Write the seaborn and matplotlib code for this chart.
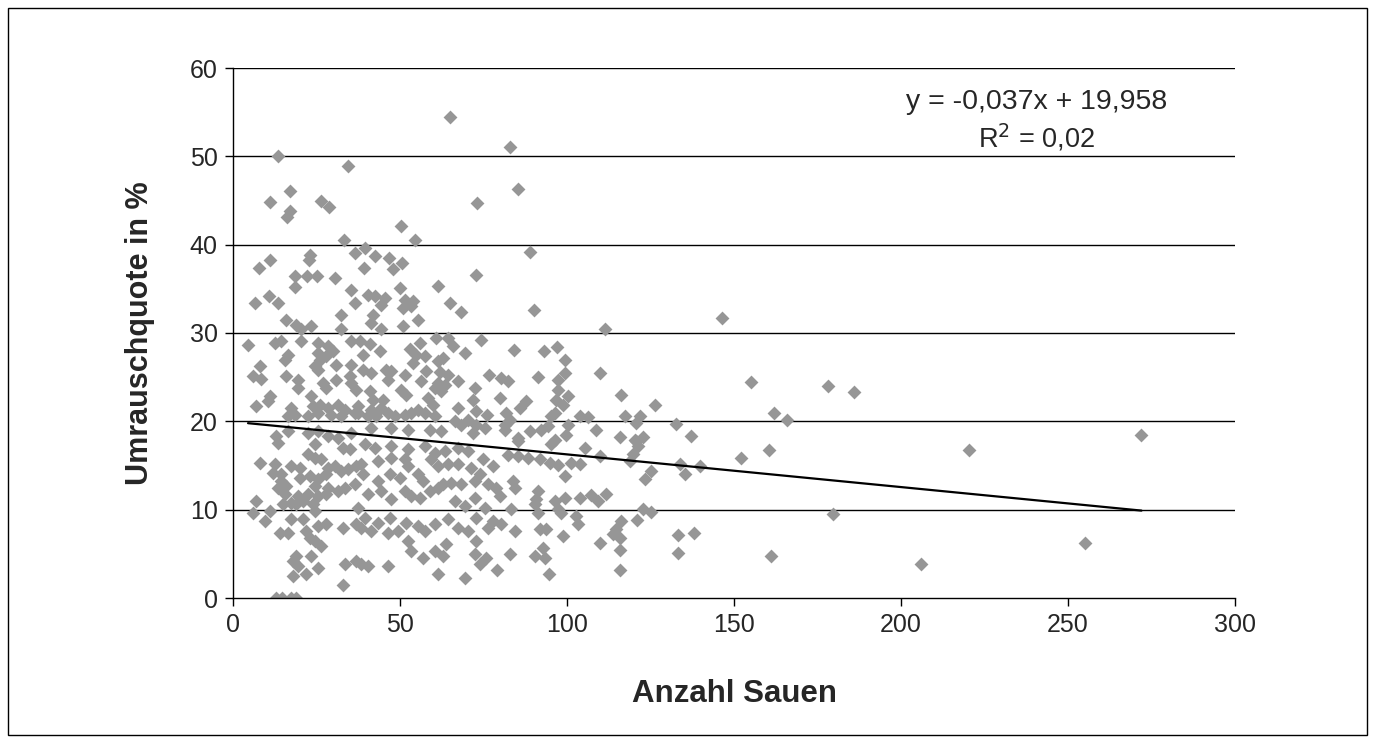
import matplotlib
matplotlib.use("Agg")
import matplotlib.pyplot as plt
from matplotlib.patches import Rectangle
import seaborn as sns
import numpy as np

# ---- data ----
pts = [
 (13.5,50.0),(34.4,48.9),(17.1,46.1),(11.1,44.8),(26.3,45.0),(28.7,44.3),(17.1,43.8),(16.2,43.1),(33.2,40.5),(36.5,39.1),
 (7.8,37.4),(11.1,38.3),(23.1,38.8),(22.8,38.3),(18.6,36.4),(22.2,36.4),(25.1,36.4),(30.5,36.2),
 (65.0,54.5),(73.0,44.7),(50.3,42.1),(54.5,40.5),(39.5,39.6),(42.5,38.7),(46.7,38.5),(50.6,37.9),(47.9,37.3),(39.2,37.4),(72.8,36.6),
 (83.0,51.1),(85.3,46.3),(88.9,39.2),
 (18.6,35.2),(35.3,34.9),(6.6,33.4),(10.8,34.2),(13.5,33.4),(36.5,33.4),(32.3,32.0),(15.9,31.5),(18.9,30.9),(20.4,30.4),(23.4,30.8),(32.3,30.4),
 (4.5,28.6),(12.6,28.9),(14.4,29.1),(20.4,29.1),(25.4,28.9),(28.4,28.5),(29.9,28.0),(35.3,29.1),
 (16.5,27.5),(15.6,27.0),(25.4,27.7),(26.0,27.0),(27.8,27.4),
 (24.6,26.3),(25.4,25.8),(30.8,26.4),(35.3,26.4),
 (8.1,26.3),(6.0,25.1),(8.4,24.8),(15.9,25.1),(19.5,24.7),(19.5,23.8),
 (26.9,24.3),(27.8,23.8),(30.8,24.7),(35.0,25.1),(35.3,24.3),(36.8,23.6),
 (11.1,22.9),(10.5,22.3),(6.9,21.7),(23.4,22.9),(17.4,21.5),(18.6,20.7),(16.5,20.6),
 (24.0,21.7),(26.0,21.9),(28.4,21.5),(31.4,21.9),(33.5,21.3),(25.4,21.0),(29.3,20.7),(32.3,20.6),(36.5,21.0),(22.5,20.6),
 (12.9,18.3),(16.5,18.9),(22.5,18.7),(25.4,18.9),(28.4,18.3),(31.4,18.1),(35.3,18.7),
 (13.5,17.6),(24.6,17.4),(32.9,17.0),(35.0,16.9),(8.1,15.3),(12.6,15.2),(12.0,14.2),(14.4,14.0),
 (17.4,15.0),(20.1,14.7),(22.5,16.3),(24.6,15.9),(26.3,15.7),
 (28.4,14.7),(30.5,15.0),(32.3,14.4),(34.4,14.6),(36.8,15.0),
 (14.4,13.3),(15.9,12.7),(13.5,12.5),(20.1,13.6),(23.1,13.8),(25.4,13.5),(27.8,14.0),
 (24.6,12.7),(28.4,12.5),(31.4,12.1),(33.5,12.5),(36.5,12.9),
 (15.6,11.8),(19.5,11.6),(22.5,11.8),(25.4,11.6),(27.8,11.8),
 (6.9,11.0),(6.0,9.6),(11.1,9.9),(9.6,8.7),
 (15.0,10.6),(17.4,10.8),(18.9,10.6),(21.0,11.0),(24.0,10.6),(24.6,9.9),
 (17.4,8.9),(21.0,8.9),(21.9,7.6),(23.1,6.8),(25.4,8.2),(27.8,8.4),
 (14.1,7.4),(16.5,7.4),(24.6,6.5),(26.3,5.9),(32.9,7.9),(36.8,8.4),
 (18.9,4.8),(18.0,4.2),(19.5,3.6),(23.4,4.8),(25.4,3.4),(21.9,2.7),(18.0,2.5),
 (33.5,3.9),(36.8,4.2),(32.9,1.5),(12.8,0.0),(14.8,0.0),(17.5,0.0),(18.8,0.0),
 (61.4,35.3),(50.0,35.1),(40.4,34.3),(42.5,34.2),(45.5,34.0),(44.3,33.2),
 (51.5,33.7),(53.9,33.6),(50.9,32.8),(53.3,33.1),(65.0,33.4),(68.3,32.4),
 (41.9,32.0),(41.3,31.1),(44.3,30.4),(50.9,30.8),(55.4,31.5),
 (38.0,29.1),(41.0,28.8),(44.0,28.0),(38.9,27.5),
 (53.0,28.2),(56.0,28.9),(54.8,27.5),(57.5,27.4),
 (60.8,29.4),(64.4,29.4),(65.9,28.5),(69.5,27.7),(62.9,27.2),(61.4,26.8),(53.9,26.6),
 (38.9,25.8),(41.3,25.5),(45.8,25.8),(47.3,25.7),(46.4,24.7),
 (51.5,25.3),(57.8,25.7),(62.0,25.6),(64.4,25.3),
 (56.3,24.6),(61.4,24.3),(60.5,23.8),(63.5,24.1),(62.3,23.4),(67.4,24.6),
 (41.0,23.4),(50.3,23.6),(51.8,23.0),(72.5,23.8),(71.9,22.4),(58.4,22.6),(59.9,21.9),
 (41.9,22.4),(44.9,22.4),(41.3,21.3),(44.3,21.5),(46.4,21.0),(42.8,20.6),(40.4,20.6),
 (48.5,20.6),(51.5,20.7),(53.3,21.0),(55.4,21.3),(57.5,21.0),(60.5,20.6),
 (67.4,21.5),(72.8,21.2),(70.4,20.2),(66.5,20.0),(68.3,19.6),(37.4,21.7),(37.4,21.0),
 (41.3,19.3),(47.3,19.3),(52.4,19.0),(59.0,19.0),(62.3,18.9),(71.9,18.7),(72.8,19.6),
 (39.5,17.4),(42.5,17.0),(47.3,17.2),(52.4,16.9),(57.5,17.2),(60.5,16.4),(63.5,16.6),(67.4,17.0),(70.4,16.6),
 (38.3,15.2),(43.4,15.5),(47.3,15.9),(51.5,15.7),(52.4,15.0),
 (59.3,15.7),(61.4,15.0),(64.4,15.2),(67.4,15.2),(71.3,14.7),
 (38.9,14.0),(43.4,13.3),(47.0,14.0),(50.0,13.6),(55.4,14.0),(56.9,13.3),
 (59.0,12.1),(61.4,12.5),(62.9,12.9),(65.3,13.0),(68.3,12.9),(72.5,13.3),
 (40.4,11.8),(44.3,12.1),(47.3,11.2),(51.5,12.1),(53.3,11.6),(56.0,11.3),
 (66.5,11.0),(69.5,10.4),(72.5,11.3),
 (37.4,10.2),(39.5,9.1),(43.4,8.5),(47.0,9.1),(51.8,8.5),(55.4,8.2),(57.5,7.6),(60.5,8.4),
 (64.4,8.9),(67.4,7.9),(72.8,9.1),(70.4,7.6),
 (38.3,7.9),(41.3,7.6),(46.4,7.4),(49.4,7.6),
 (52.4,6.5),(53.3,5.3),(56.9,4.5),(60.5,5.3),(62.9,4.8),(63.8,6.1),
 (38.3,3.9),(40.4,3.6),(46.4,3.6),(61.4,2.7),(69.5,2.3),(72.8,6.5),(72.5,5.0),(74.0,3.9),
 (90.1,32.6),(74.3,29.2),(84.1,28.1),(93.1,28.0),(97.0,28.4),(99.4,27.0),
 (76.6,25.3),(80.2,24.9),(82.3,24.6),(91.3,25.0),(97.3,24.7),(99.4,25.5),(97.3,23.6),(96.7,22.4),(98.8,21.9),(100.3,22.9),
 (79.9,22.6),(76.0,20.7),(87.7,22.3),(85.9,21.5),
 (81.7,21.0),(82.9,20.2),(81.4,19.6),(95.2,20.6),(96.4,21.0),(103.9,20.6),(106.3,20.5),(109.9,25.5),
 (75.4,19.3),(81.4,19.0),(88.9,18.9),(92.2,19.0),(94.3,19.5),(100.3,19.6),(99.7,18.5),(85.3,18.1),(96.4,17.9),(108.7,19.0),
 (111.4,30.4),(146.5,31.7),(116.2,23.0),(126.3,21.9),(117.4,20.6),(121.9,20.6),(120.7,19.8),(132.6,19.7),
 (115.9,18.2),(120.4,17.9),(122.8,18.2),(137.1,18.3),
 (85.3,17.8),(95.2,17.4),(105.4,17.0),
 (74.9,15.7),(77.8,15.0),(82.3,16.2),(85.3,16.1),(88.3,15.9),(91.9,15.7),(94.9,15.3),(97.3,15.1),(99.4,13.8),(101.2,15.3),(103.9,15.2),
 (74.0,14.0),(76.3,12.9),(78.7,12.5),(79.9,11.6),(83.8,13.3),(84.4,12.5),
 (91.3,12.1),(90.7,11.2),(96.4,11.0),(99.4,11.3),(103.9,11.3),(107.2,11.7),(109.3,11.0),
 (75.4,10.2),(83.2,10.1),(90.4,10.6),(91.3,9.6),(97.3,10.1),(98.2,9.6),(102.7,9.3),(103.3,8.4),
 (77.8,8.7),(80.2,8.4),(76.3,7.9),
 (84.4,7.6),(91.9,7.8),(93.7,7.8),(98.8,7.0),(109.9,6.2),
 (75.7,4.5),(82.9,5.0),(90.4,4.8),(92.8,5.7),(93.4,4.5),(79.0,3.2),(94.6,2.7),
 (109.9,16.1),(120.7,17.8),(121.3,17.2),(119.8,16.3),(118.9,15.5),(125.1,14.4),(123.4,13.5),
 (133.8,15.2),(135.3,14.0),(139.8,15.0),(111.7,11.8),
 (122.8,10.1),(125.1,9.7),(121.0,8.8),(116.2,8.7),(114.7,7.8),(113.8,7.2),(115.9,6.8),
 (133.2,7.1),(138.0,7.4),(133.2,5.1),(115.9,5.4),(115.9,3.2),
 (155.0,24.4),(152.0,15.8),(160.5,16.8),(161.0,4.7),(162.0,21.0),(166.0,20.2),(178.0,24.0),
 (179.5,9.5),(186.0,23.3),(206.0,3.8),(220.5,16.7),(255.0,6.2),(272.0,18.4),
]
sauen = [p[0] for p in pts]
umrausch = [p[1] for p in pts]

slope = -0.037
intercept = 19.958
r2 = 0.02

x_ticks = [0, 50, 100, 150, 200, 250, 300]
y_ticks = [0, 10, 20, 30, 40, 50, 60]

# ---- style ----
sns.set_style("white")
plt.rcParams['font.family'] = ['Liberation Sans', 'DejaVu Sans']

fig = plt.figure(figsize=(13.75, 7.43), dpi=100)
ax = fig.add_axes([233/1375, 1-598/743, (1235-233)/1375, (598-68)/743])

for yv in y_ticks[1:]:
    ax.axhline(yv, color='black', lw=1.0, zorder=0)

sns.scatterplot(x=sauen, y=umrausch, marker='D', color='#969696', s=50,
                linewidth=0, ax=ax, zorder=2)

xs = np.array([min(sauen), max(sauen)])
ax.plot(xs, slope*xs + intercept, color='black', lw=1.6, zorder=3)

ax.set_xlim(0, 300)
ax.set_ylim(0, 60)
ax.set_xticks(x_ticks)
ax.set_yticks(y_ticks)
ax.tick_params(direction='out', length=6, width=1, color='black', labelsize=18, pad=5,
               left=True, bottom=True)
for s in ['top', 'right']:
    ax.spines[s].set_visible(False)
for s in ['left', 'bottom']:
    ax.spines[s].set_color('black')
    ax.spines[s].set_linewidth(1)

ax.set_xlabel('Anzahl Sauen', fontsize=22.5, fontweight='bold', labelpad=30)
ax.set_ylabel('Umrauschquote in %', fontsize=22, fontweight='bold', labelpad=25)

eq = f"y = {slope:.3f}x + {intercept:.3f}".replace('.', ',')
ax.text(0.802, 0.936, eq, transform=ax.transAxes, ha='center', va='center', fontsize=20.5)
ax.text(0.802, 0.868, f"R$^2$ = {r2:.2f}".replace('.', ','), transform=ax.transAxes,
        ha='center', va='center', fontsize=19.5)

fig.patches.append(Rectangle((8/1375, 8/743), (1367-8)/1375, (735-8)/743,
                             transform=fig.transFigure, fill=False,
                             edgecolor='black', lw=1))

fig.savefig('out.png', dpi=100, facecolor='white')
